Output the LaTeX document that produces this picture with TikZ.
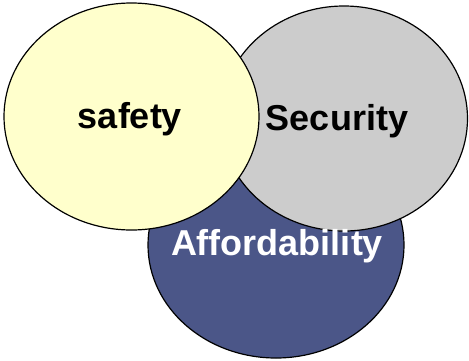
\documentclass[tikz,border=0pt]{standalone}
\usepackage{fontspec}
\setmainfont{Liberation Sans}
\usetikzlibrary{shapes.geometric}
\definecolor{safetyfill}{HTML}{FFFFCC}
\definecolor{securityfill}{HTML}{CCCCCC}
\definecolor{affordfill}{HTML}{4B5688}
\begin{document}
\begin{tikzpicture}[x=1pt,y=-1pt,
  disc/.style={ellipse, draw=black, line width=1.2pt, inner sep=0pt},
  word/.style={font=\fontsize{36}{40}\selectfont\bfseries, anchor=base, inner sep=0pt}]
  \useasboundingbox (0,0) rectangle (469,360);
  % three overlapping discs, back to front
  \node[disc, fill=affordfill, minimum width=256pt, minimum height=226pt] (afford) at (276,245) {};
  \node[disc, fill=securityfill, minimum width=247pt, minimum height=225pt] (security) at (344,118.5) {};
  \node[disc, fill=safetyfill, minimum width=255pt, minimum height=227pt] (safety) at (131.5,116.5) {};
  % labels
  \node[word] (tsafety) at (130,128.5) {safety};
  \node[word] (tsecurity) at (337,130) {Security};
  \node[word, text=white] (tafford) at (277,255.5) {Affordability};
\end{tikzpicture}
\end{document}
